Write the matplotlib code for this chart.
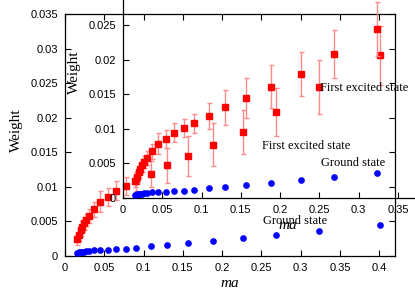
import matplotlib.pyplot as plt
from matplotlib.ticker import FormatStrFormatter

ma = [0.0157, 0.0178, 0.0200, 0.0220, 0.0242, 0.0268, 0.0310, 0.0365, 0.0446, 0.0544, 0.0650,
      0.0777, 0.0904, 0.1092, 0.1303, 0.1570, 0.1889, 0.2271, 0.2688, 0.3227, 0.4005]
excited = [0.00242, 0.00304, 0.00376, 0.00424, 0.00473, 0.00521, 0.00583, 0.00676, 0.00785, 0.00857, 0.00944,
           0.0101, 0.0108, 0.0119, 0.0131, 0.0145, 0.0161, 0.0179, 0.0208, 0.0244, 0.0290]
excited_err = [0.0008, 0.0008, 0.0008, 0.0008, 0.0009, 0.0009, 0.0010, 0.0011, 0.0015, 0.0013, 0.0014,
               0.0013, 0.0014, 0.0019, 0.0025, 0.0029, 0.0031, 0.0032, 0.0035, 0.0039, 0.0042]
ground = [0.00048, 0.00052, 0.00056, 0.00060, 0.00064, 0.00068, 0.00073, 0.00080, 0.00087, 0.00094, 0.00101,
          0.00107, 0.00120, 0.00140, 0.00162, 0.00184, 0.00215, 0.00255, 0.00299, 0.00362, 0.00448]

xticks = [0, 0.05, 0.1, 0.15, 0.2, 0.25, 0.3, 0.35, 0.4]
yticks = [0, 0.005, 0.01, 0.015, 0.02, 0.025, 0.03, 0.035]

plt.rcParams['font.family'] = ['Liberation Sans', 'DejaVu Sans']

fig = plt.figure(figsize=(4.15, 2.91), dpi=100)
w, h = 330 / 415, 242 / 291
ax = fig.add_axes([65 / 415, 35 / 291, w, h])
# the "inset" is the same plot again, shifted up and right, with a see-through background
ins = fig.add_axes([123 / 415, 93 / 291, w, h])
ins.patch.set_alpha(0)


def draw(a):
    a.errorbar(ma, excited, yerr=excited_err, fmt='s', color='red', ms=4,
               ecolor='#ff8a8a', elinewidth=1, capsize=1.8, capthick=1, zorder=3)
    a.plot(ma, ground, 'o', color='#0000ff', ms=3.8, zorder=3)
    a.set_xlim(0, 0.42)
    a.set_ylim(0, 0.035)
    a.set_xticks(xticks)
    a.set_yticks(yticks)
    a.xaxis.set_major_formatter(FormatStrFormatter('%g'))
    a.yaxis.set_major_formatter(FormatStrFormatter('%g'))
    a.tick_params(direction='in', top=True, right=True, length=4, width=0.8,
                  labelsize=8, pad=5)
    for s in a.spines.values():
        s.set_linewidth(0.9)
    a.set_xlabel('ma', family='Liberation Serif', style='italic', fontsize=11)
    a.set_ylabel('Weight', family='Liberation Serif', fontsize=11)
    a.xaxis.set_label_coords(0.5, -0.085)
    a.yaxis.set_label_coords(-0.128, 0.52)
    a.text(0.251, 0.0159, 'First excited state', family='Liberation Serif',
           fontsize=9, va='center')
    a.text(0.252, 0.0050, 'Ground state', family='Liberation Serif',
           fontsize=9, va='center')


draw(ax)
draw(ins)

fig.savefig('out.png', dpi=100)
